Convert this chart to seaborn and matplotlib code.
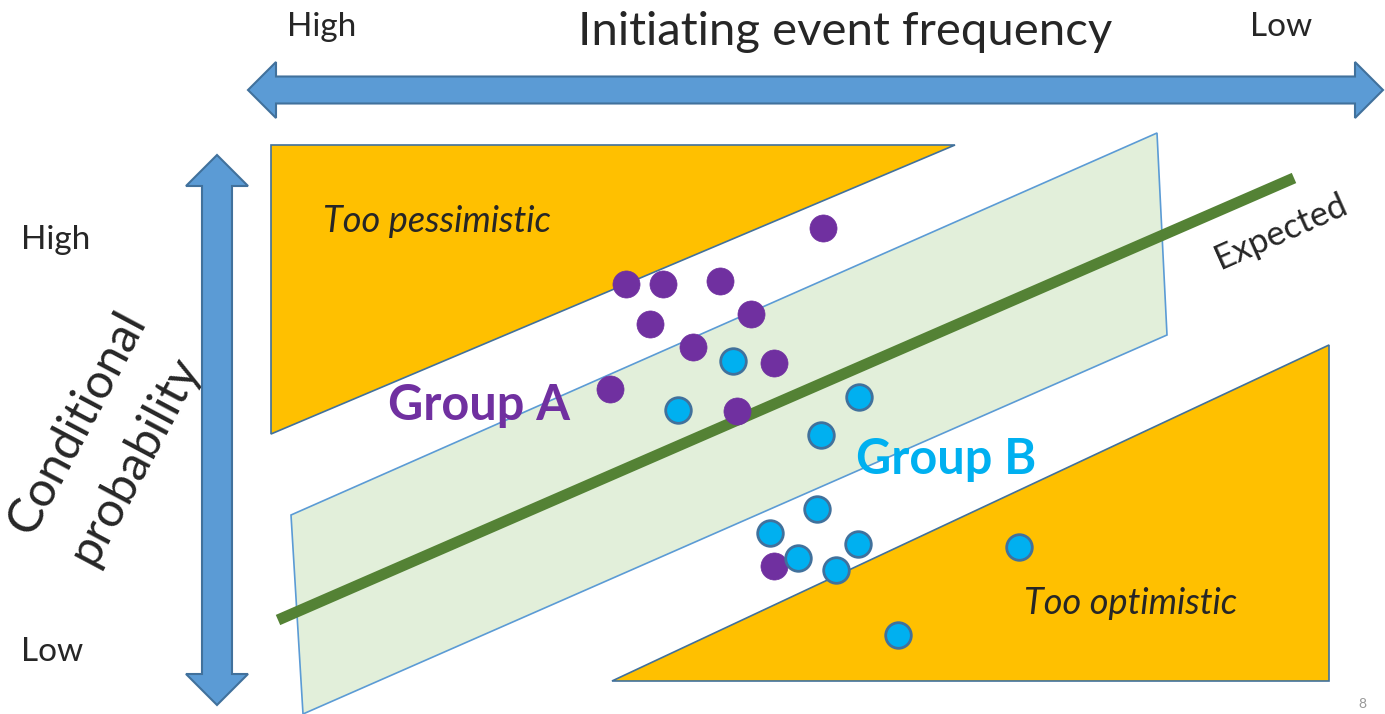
import numpy as np
import pandas as pd
import matplotlib
matplotlib.use("Agg")
import matplotlib.pyplot as plt
from matplotlib.patches import Polygon
import seaborn as sns

# diagram coordinates (pixel-like space, y grows downward)
group_a_x = [823, 626, 663, 720, 650, 751, 693, 774, 610, 737, 774]
group_a_y = [228, 284, 284, 281, 324, 314, 347, 363, 389, 411, 566]
group_b_x = [733, 678, 859, 821, 817, 770, 798, 858, 836, 1019, 898]
group_b_y = [361, 410, 397, 435, 509, 533, 558, 544, 570, 547, 635]

expected_x = [278, 1294]
expected_y = [620, 178]

pessimistic_tri = [(271, 145), (955, 145), (271, 434)]
optimistic_tri = [(612, 681), (1329, 345), (1329, 681)]
expected_band = [(291, 515), (1157, 133), (1167, 335), (303, 714)]

BLUE = '#5b9bd5'
EDGE = '#41719c'
ORANGE = '#ffc000'
PURPLE = '#7030a0'
CYAN = '#00b0f0'


def h_double_arrow(x0, x1, yc, shaft, head, head_len):
    return [(x0, yc), (x0 + head_len, yc - head / 2), (x0 + head_len, yc - shaft / 2),
            (x1 - head_len, yc - shaft / 2), (x1 - head_len, yc - head / 2), (x1, yc),
            (x1 - head_len, yc + head / 2), (x1 - head_len, yc + shaft / 2),
            (x0 + head_len, yc + shaft / 2), (x0 + head_len, yc + head / 2)]


def v_double_arrow(y0, y1, xc, shaft, head, head_len):
    return [(y, x) for (x, y) in h_double_arrow(y0, y1, xc, shaft, head, head_len)]


sns.set_theme(style="white")
plt.rcParams['font.family'] = ['Lato', 'DejaVu Sans']

fig = plt.figure(figsize=(13.85, 7.14), dpi=100)
ax = fig.add_axes([0, 0, 1, 1])

# arrows
ax.add_patch(Polygon(h_double_arrow(248, 1383, 90, 27, 56, 28),
                     closed=True, fc=BLUE, ec=EDGE, lw=1.5))
ax.add_patch(Polygon(v_double_arrow(155, 705, 217, 30, 62, 31),
                     closed=True, fc=BLUE, ec=EDGE, lw=1.5))

# regions
ax.add_patch(Polygon(pessimistic_tri, closed=True, fc=ORANGE, ec=EDGE, lw=1.2))
ax.add_patch(Polygon(optimistic_tri, closed=True, fc=ORANGE, ec=EDGE, lw=1.2))
ax.add_patch(Polygon(expected_band, closed=True, fc='#e2efda', ec=BLUE, lw=1.2))

line_df = pd.DataFrame({'x': expected_x, 'y': expected_y})
sns.lineplot(data=line_df, x='x', y='y', ax=ax, color='#548235', lw=8,
             solid_capstyle='butt')

a_df = pd.DataFrame({'x': group_a_x, 'y': group_a_y})
b_df = pd.DataFrame({'x': group_b_x, 'y': group_b_y})
sns.scatterplot(data=a_df, x='x', y='y', ax=ax, color=PURPLE, s=380,
                edgecolor=PURPLE, linewidth=0.5, zorder=5)
sns.scatterplot(data=b_df, x='x', y='y', ax=ax, color=CYAN, s=340,
                edgecolor=EDGE, linewidth=2, zorder=5)
ax.set_xlim(0, 1385)
ax.set_ylim(714, 0)
ax.axis('off')

# texts
ax.text(845, 32, 'Initiating event frequency', fontsize=34, ha='center', va='center')
ax.text(322, 27, 'High', fontsize=24, ha='center', va='center')
ax.text(1281, 27, 'Low', fontsize=24, ha='center', va='center')
ax.text(56, 240, 'High', fontsize=24, ha='center', va='center')
ax.text(52, 652, 'Low', fontsize=24, ha='center', va='center')
ax.text(77, 422, 'Conditional', fontsize=35, rotation=62,
        ha='center', va='center', rotation_mode='anchor')
ax.text(135, 460, 'probability', fontsize=35, rotation=62,
        ha='center', va='center', rotation_mode='anchor')
ax.text(437, 222, 'Too pessimistic', fontsize=26, style='italic', ha='center', va='center')
ax.text(1131, 604, 'Too optimistic', fontsize=26, style='italic', ha='center', va='center')
ax.text(479, 406, 'Group A', fontsize=35, fontweight='bold', color=PURPLE,
        ha='center', va='center')
ax.text(946, 460, 'Group B', fontsize=35, fontweight='bold', color=CYAN,
        ha='center', va='center')
ax.text(1281, 231, 'Expected', fontsize=25, rotation=24, ha='center', va='center',
        rotation_mode='anchor')
ax.text(1362, 704, '8', fontsize=10, color='#999999', ha='center', va='center')

fig.savefig('out.png', dpi=100)
